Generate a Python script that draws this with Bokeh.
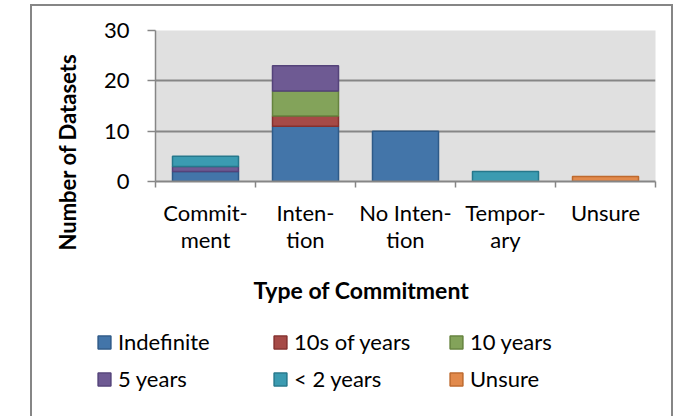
import numpy as np
from bokeh.plotting import figure
from bokeh.layouts import column
from bokeh.models import (Range1d, FixedTicker, Legend, LegendItem,
                          ColumnDataSource, Title)
from bokeh.embed import file_html
from bokeh.resources import INLINE

# ---- data ----
categories = ["Commit-\nment", "Inten-\ntion", "No Inten-\ntion", "Tempor-\nary", "Unsure"]
series_names = ["Indefinite", "10s of years", "10 years", "5 years", "< 2 years", "Unsure"]
indefinite = [2, 11, 10, 0, 0]
tens_of_years = [0, 2, 0, 0, 0]
ten_years = [0, 5, 0, 0, 0]
five_years = [1, 5, 0, 0, 0]
under_two_years = [2, 0, 0, 2, 0]
unsure = [0, 0, 0, 0, 1]
y_ticks = [0, 10, 20, 30]

series_values = [indefinite, tens_of_years, ten_years, five_years, under_two_years, unsure]

fills = ["#4375A9", "#A64A47", "#83A35A", "#6E5A93", "#3B9BB1", "#E28A4C"]
lines = ["#2E5A88", "#85302E", "#65833E", "#54437A", "#26788C", "#BE6A2E"]

FONT = "Lato"
GRID = "#868686"

n = len(categories)
centers = np.arange(n) + 0.5
bounds = list(np.arange(n + 1).astype(float))

p = figure(output_backend="svg", toolbar_location=None,
           frame_width=500, frame_height=151,
           min_border_left=123, min_border_right=16,
           min_border_top=24, min_border_bottom=145,
           x_range=Range1d(0, n), y_range=Range1d(0, 30))
p.frame_align = False

p.background_fill_color = "#E0E0E0"
p.border_fill_color = "white"
p.outline_line_color = None

# grid
p.xgrid.visible = False
p.ygrid.ticker = FixedTicker(ticks=y_ticks)
p.ygrid.grid_line_color = GRID
p.ygrid.grid_line_width = 2

# y axis
ya = p.yaxis[0]
ya.ticker = FixedTicker(ticks=y_ticks)
ya.axis_line_color = GRID
ya.axis_line_width = 1.5
ya.major_tick_line_color = GRID
ya.major_tick_line_width = 1.5
ya.major_tick_out = 8
ya.major_tick_in = 0
ya.minor_tick_out = 0
ya.minor_tick_in = 0
ya.major_label_text_font = FONT
ya.major_label_text_font_size = "22px"
ya.major_label_text_color = "black"
ya.major_label_standoff = 18

# x axis: labels at category centres, tick marks at category boundaries
xa = p.xaxis[0]
xa.ticker = FixedTicker(ticks=list(centers), minor_ticks=bounds)
xa.major_label_overrides = {float(c): lab for c, lab in zip(centers, categories)}
xa.axis_line_color = GRID
xa.axis_line_width = 2
xa.major_tick_out = 0
xa.major_tick_in = 0
xa.minor_tick_out = 6
xa.minor_tick_in = 0
xa.minor_tick_line_color = GRID
xa.minor_tick_line_width = 1.5
xa.major_label_text_font = FONT
xa.major_label_text_font_size = "22px"
xa.major_label_text_color = "black"
xa.major_label_text_line_height = 1.0
xa.major_label_standoff = 11

# stacked bars
bottom = np.zeros(n)
for name, vals, fc, lc in zip(series_names, series_values, fills, lines):
    vals = np.array(vals, dtype=float)
    top = bottom + vals
    mask = vals > 0
    src = ColumnDataSource(dict(x=centers[mask], bottom=bottom[mask], top=top[mask]))
    p.vbar(x="x", bottom="bottom", top="top", width=0.66, source=src,
           fill_color=fc, line_color=lc, line_width=1.5)
    bottom = top

# axis titles
p.add_layout(Title(text="Number of Datasets", align="left", offset=-69,
                   text_font=FONT, text_font_style="bold",
                   text_font_size="22px", text_color="black", standoff=39), "left")
p.add_layout(Title(text="Type of Commitment", align="left", offset=98,
                   text_font=FONT, text_font_style="bold",
                   text_font_size="23px", text_color="black", standoff=36), "below")

# legend panel (a second canvas under the plot, inside the same chart border)
lg = figure(output_backend="svg", toolbar_location=None,
            frame_width=639, frame_height=90, min_border=0,
            x_axis_location=None, y_axis_location=None,
            x_range=Range1d(0, 1), y_range=Range1d(0, 1))
lg.frame_align = False
lg.grid.visible = False
lg.outline_line_color = None
lg.background_fill_color = "white"
lg.border_fill_color = "white"
items = []
for name, fc, lc in zip(series_names, fills, lines):
    # legend-only renderer: one non-finite row, so nothing is drawn on the canvas
    src = ColumnDataSource(dict(x=[np.nan], bottom=[np.nan], top=[np.nan]))
    r = lg.vbar(x="x", bottom="bottom", top="top", width=0.66, source=src,
                fill_color=fc, line_color=lc, line_width=1.5)
    items.append(LegendItem(label=name, renderers=[r]))

legend = Legend(items=items, orientation="horizontal", ncols=3,
                location=(64, 24),
                label_text_font=FONT, label_text_font_size="22px",
                label_text_color="black",
                glyph_width=16, glyph_height=16, label_standoff=6,
                label_width=144, label_height=26, spacing=10,
                padding=0, margin=0,
                border_line_color=None, background_fill_alpha=0)
lg.add_layout(legend, "center")

layout = column(p, lg, spacing=0, margin=(4, 0, 0, 30),
                styles={"border-top": "2px solid #868686",
                        "border-left": "2px solid #868686",
                        "border-right": "2px solid #868686"})

open("out.html", "w").write(file_html(layout, INLINE))
